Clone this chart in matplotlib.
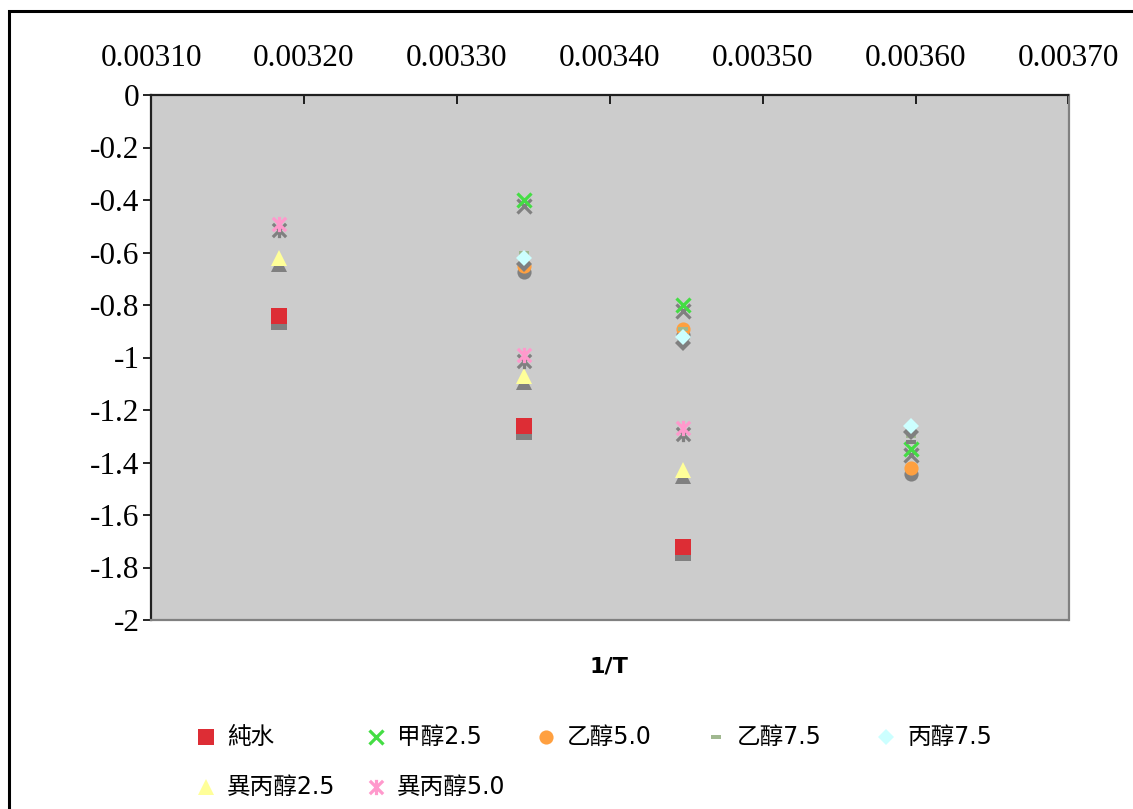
import numpy as np
import matplotlib
matplotlib.use("Agg")
import matplotlib.pyplot as plt
from matplotlib.path import Path
from matplotlib.lines import Line2D
from matplotlib.patches import Rectangle
from matplotlib import transforms
from matplotlib.ticker import FuncFormatter

plt.rcParams["axes.unicode_minus"] = False

# 1/T positions of the four measurement temperatures
inv_t = [0.003184, 0.003344, 0.003448, 0.003597]

# ln-type values for each solvent mixture (nan = not measured)
pure_water = [-0.84, -1.26, -1.72, np.nan]
methanol_25 = [np.nan, -0.40, -0.80, -1.35]
ethanol_50 = [np.nan, -0.65, -0.89, -1.42]
ethanol_75 = [np.nan, -0.60, -0.89, -1.30]
propanol_75 = [np.nan, -0.62, -0.92, -1.26]
isopropanol_25 = [-0.62, -1.07, -1.43, np.nan]
isopropanol_50 = [-0.49, -0.99, -1.27, np.nan]

series_labels = ["純水", "甲醇2.5", "乙醇5.0", "乙醇7.5", "丙醇7.5", "異丙醇2.5", "異丙醇5.0"]
series_values = [pure_water, methanol_25, ethanol_50, ethanol_75, propanol_75,
                 isopropanol_25, isopropanol_50]

x_ticks = [0.00310, 0.00320, 0.00330, 0.00340, 0.00350, 0.00360, 0.00370]
y_ticks = [0, -0.2, -0.4, -0.6, -0.8, -1, -1.2, -1.4, -1.6, -1.8, -2]

# custom marker shapes
asterisk = Path([(-1, -1), (1, 1), (-1, 1), (1, -1), (0, -1.15), (0, 1.15)],
                [Path.MOVETO, Path.LINETO, Path.MOVETO, Path.LINETO, Path.MOVETO, Path.LINETO])
dash = Path([(-1, -0.55), (1, -0.55), (1, 0.55), (-1, 0.55), (-1, -0.55)],
            [Path.MOVETO, Path.LINETO, Path.LINETO, Path.LINETO, Path.CLOSEPOLY])

styles = [
    dict(marker="s", ms=11.5, color="#DD2D35", filled=True),
    dict(marker="x", ms=10.5, color="#44DD44", filled=False, mew=2.3),
    dict(marker="o", ms=10.2, color="#FFA040", filled=True),
    dict(marker=dash, ms=6.5, color="#A0B890", filled=True),
    dict(marker="D", ms=8.2, color="#CCFFFF", filled=True),
    dict(marker="^", ms=12, color="#FFFF99", filled=True),
    dict(marker=asterisk, ms=11, color="#FF99CC", filled=False, mew=2.3),
]

W, H = 1133, 809
fig = plt.figure(figsize=(W / 100, H / 100), dpi=100)
fig.patch.set_facecolor("white")

ax = fig.add_axes([151 / W, 1 - 620 / H, (1068.5 - 151) / W, (620 - 95) / H])
ax.set_facecolor("#CCCCCC")
ax.set_xlim(0.00310, 0.00370)
ax.set_ylim(-2, 0)

shadow_tr = transforms.offset_copy(ax.transData, fig=fig, x=0, y=-6, units="dots")

z = 3
for vals, st in zip(series_values, styles):
    common = dict(linestyle="none", marker=st["marker"], markersize=st["ms"])
    if st["filled"]:
        ax.plot(inv_t, vals, transform=shadow_tr, markerfacecolor="#808080",
                markeredgewidth=0, zorder=z, **common)
        ax.plot(inv_t, vals, markerfacecolor=st["color"], markeredgewidth=0,
                zorder=z + 0.5, **common)
    else:
        ax.plot(inv_t, vals, transform=shadow_tr, markeredgecolor="#808080",
                markeredgewidth=st["mew"], zorder=z, **common)
        ax.plot(inv_t, vals, markeredgecolor=st["color"], markeredgewidth=st["mew"],
                zorder=z + 0.5, **common)
    z += 1

# axes: x scale along the top, y on the left
ax.xaxis.tick_top()
ax.set_xticks(x_ticks)
ax.xaxis.set_major_formatter(FuncFormatter(lambda v, p: f"{v:.5f}"))
ax.set_yticks(y_ticks)
ax.yaxis.set_major_formatter(FuncFormatter(lambda v, p: f"{v:g}"))
ax.tick_params(axis="x", direction="in", length=6.5, width=1.2, pad=16,
               labelsize=22.5, colors="black")
ax.tick_params(axis="y", direction="out", length=5.8, width=1.2, pad=2.5,
               labelsize=22.5, colors="black")
for lab in ax.get_xticklabels() + ax.get_yticklabels():
    lab.set_fontfamily("Liberation Serif")

ax.spines["top"].set_color("#202020")
ax.spines["left"].set_color("#202020")
ax.spines["right"].set_color("#808080")
ax.spines["bottom"].set_color("#808080")
for s in ax.spines.values():
    s.set_linewidth(1.6)

text_family = ["DejaVu Sans", "Noto Sans CJK TC"]

fig.text(609 / W, 1 - 666 / H, "1/T", ha="center", va="center", fontsize=16,
         fontweight="bold", family=text_family)

# legend laid out in a 5-column grid
leg_x0, leg_dx = 206, 170
leg_rows_y = [737, 787]
for i, (label, st) in enumerate(zip(series_labels, styles)):
    row, col = divmod(i, 5)
    mx = (leg_x0 + col * leg_dx) / W
    my = 1 - leg_rows_y[row] / H
    if st["filled"]:
        kw = dict(markerfacecolor=st["color"], markeredgewidth=0)
    else:
        kw = dict(markeredgecolor=st["color"], markeredgewidth=st["mew"])
    fig.add_artist(Line2D([mx], [my], transform=fig.transFigure, linestyle="none",
                          marker=st["marker"], markersize=st["ms"], **kw))
    fig.text(mx + 21 / W, my, label, ha="left", va="center", fontsize=17,
             family=text_family)

# chart frame
fig.add_artist(Rectangle((9 / W, -0.1), 1.2, 1.1 - 11 / H, transform=fig.transFigure,
                         fill=False, edgecolor="black", linewidth=2.2))

fig.savefig("out.png", dpi=100)
